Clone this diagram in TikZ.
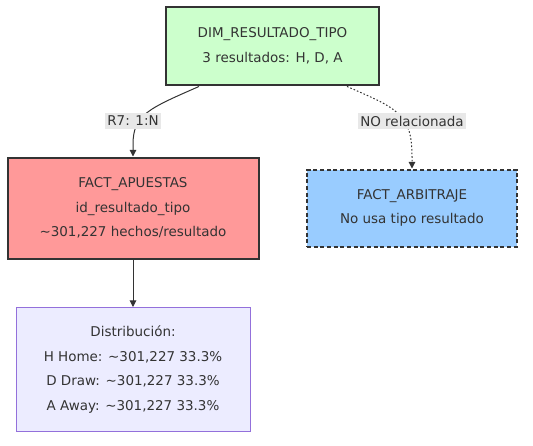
\documentclass[tikz,border=0pt]{standalone}
\usepackage{fontspec}
\setmainfont{DejaVu Sans}
\usetikzlibrary{arrows.meta,calc}
\definecolor{txt}{HTML}{333333}
\definecolor{dimfill}{HTML}{CCFFCC}
\definecolor{apfill}{HTML}{FF9999}
\definecolor{arbfill}{HTML}{99CCFF}
\definecolor{distfill}{HTML}{ECECFF}
\definecolor{distdraw}{HTML}{9370DB}
\definecolor{lblfill}{HTML}{E8E8E8}
\tikzset{
  every node/.style={font=\fontsize{10.1}{18.4}\selectfont, text=txt, align=center},
  box/.style={draw=txt, rectangle, inner sep=0pt},
  elabel/.style={fill=lblfill, inner xsep=1.5pt, inner ysep=2pt},
  conn/.style={draw=txt, line width=0.75pt, -{Triangle[length=5pt,width=5pt]}},
}
\begin{document}
\begin{tikzpicture}[x=0.75pt,y=-0.75pt]
\useasboundingbox (0,0) rectangle (533,446);
\node[box, fill=dimfill, line width=2.2pt, minimum width=213*0.75pt, minimum height=78*0.75pt] (dim) at (272.5,46) {DIM\_RESULTADO\_TIPO\\3 resultados: H, D, A};
\node[box, fill=apfill, line width=1.5pt, minimum width=251*0.75pt, minimum height=101*0.75pt] (ap) at (133,208) {FACT\_APUESTAS\\id\_resultado\_tipo\\\textasciitilde301,227 hechos/resultado};
\node[box, fill=arbfill, line width=1.5pt, dash pattern=on 3pt off 2pt, minimum width=210*0.75pt, minimum height=77*0.75pt] (arb) at (412,208) {FACT\_ARBITRAJE\\No usa tipo resultado};
\node[box, draw=distdraw, fill=distfill, line width=0.75pt, minimum width=234*0.75pt, minimum height=124*0.75pt] (dist) at (133,369.5) {Distribución:\\H Home: \textasciitilde301,227 33.3\%\\D Draw: \textasciitilde301,227 33.3\%\\A Away: \textasciitilde301,227 33.3\%};
\coordinate (s1) at ($(dim.south)+(-73.5,0)$);
\coordinate (s2) at ($(dim.south)+(74.5,0)$);
\draw[conn] (s1) .. controls ($(s1)+(-50,22)$) and ($(ap.north)+(0,-42)$) .. ($(ap.north)+(0,-12)$) -- (ap.north);
\draw[conn, dash pattern=on 1.2pt off 1.5pt] (s2) .. controls ($(s2)+(50,22)$) and ($(arb.north)+(0,-55)$) .. ($(arb.north)+(0,-12)$) -- (arb.north);
\node[elabel] (l1) at (133,121) {R7: 1:N};
\node[elabel] (l2) at (412,121) {NO relacionada};
\draw[conn] (ap.south) -- (dist.north);
\end{tikzpicture}
\end{document}
